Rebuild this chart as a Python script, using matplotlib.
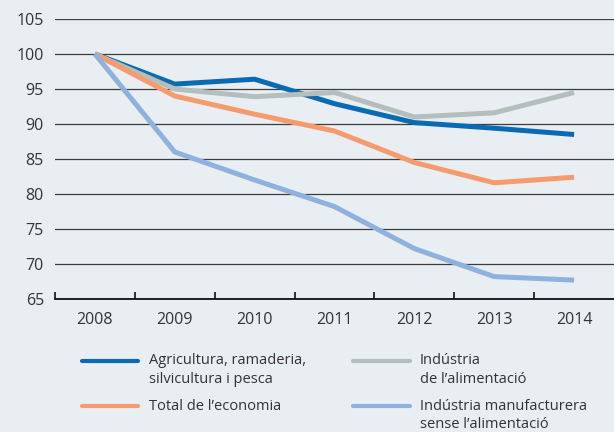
import matplotlib.pyplot as plt
from matplotlib.lines import Line2D

years = ["2008", "2009", "2010", "2011", "2012", "2013", "2014"]
agricultura = [100, 95.7, 96.4, 92.9, 90.2, 89.4, 88.5]
alimentacio = [100, 95.0, 93.9, 94.5, 91.0, 91.6, 94.5]
total_economia = [100, 94.0, 91.4, 89.0, 84.5, 81.6, 82.4]
manufacturera = [100, 86.0, 82.0, 78.2, 72.2, 68.2, 67.7]

labels = [
    "Agricultura, ramaderia,\nsilvicultura i pesca",
    "Total de l\u2019economia",
    "Ind\u00fastria\nde l\u2019alimentaci\u00f3",
    "Ind\u00fastria manufacturera\nsense l\u2019alimentaci\u00f3",
]
colors = ["#0a6bb3", "#f59b6e", "#b4bebc", "#8eb1de"]
series = [agricultura, total_economia, alimentacio, manufacturera]

bg = "#e9eef3"
txt = "#333333"
plt.rcParams["font.family"] = ["Open Sans", "DejaVu Sans"]

fig = plt.figure(figsize=(6.14, 4.32), dpi=100, facecolor=bg)
ax = fig.add_axes([55 / 614, 1 - 299 / 432, 1 - 55 / 614, 280 / 432])
ax.set_facecolor(bg)

x = range(len(years))
# draw order: dark blue, grey, orange, light blue on top
for i in [0, 2, 1, 3]:
    ax.plot(x, series[i], color=colors[i], lw=3.6, solid_capstyle="butt",
            solid_joinstyle="round", zorder=3)

ax.set_xlim(-0.5, 6.5)
ax.set_ylim(65, 105)
ax.set_yticks(range(65, 106, 5))
ax.yaxis.grid(True, color="#3d3d3d", lw=0.9)
ax.set_axisbelow(True)
for s in ["top", "right", "left"]:
    ax.spines[s].set_visible(False)
ax.spines["bottom"].set_color("#111111")
ax.spines["bottom"].set_linewidth(1.3)

ax.set_xticks([i - 0.5 for i in range(7)])
ax.set_xticklabels([])
ax.set_xticks(list(x), minor=True)
ax.set_xticklabels(years, minor=True)
ax.tick_params(axis="x", which="major", direction="in", length=5, width=1.2, color="#111111")
ax.tick_params(axis="x", which="minor", length=0, pad=9, labelsize=11.5, labelcolor=txt)
ax.tick_params(axis="y", length=0, pad=8, labelsize=11.5, labelcolor=txt)

# legend, laid out by hand
cols = [(82 / 614, 138 / 614, 149 / 614), (353 / 614, 410 / 614, 420 / 614)]
rows = [1 - 361 / 432, 1 - 406 / 432]
for i, lab in enumerate(labels):
    c = cols[i // 2]
    r = rows[i % 2]
    fig.add_artist(Line2D([c[0], c[1]], [r, r], color=colors[i], lw=3,
                          solid_capstyle="round", transform=fig.transFigure))
    for j, line in enumerate(lab.split("\n")):
        fig.text(c[2], r - j * 18.5 / 432, line, ha="left", va="center",
                 fontsize=10.5, color=txt)

fig.savefig("out.png", dpi=100, facecolor=bg)
